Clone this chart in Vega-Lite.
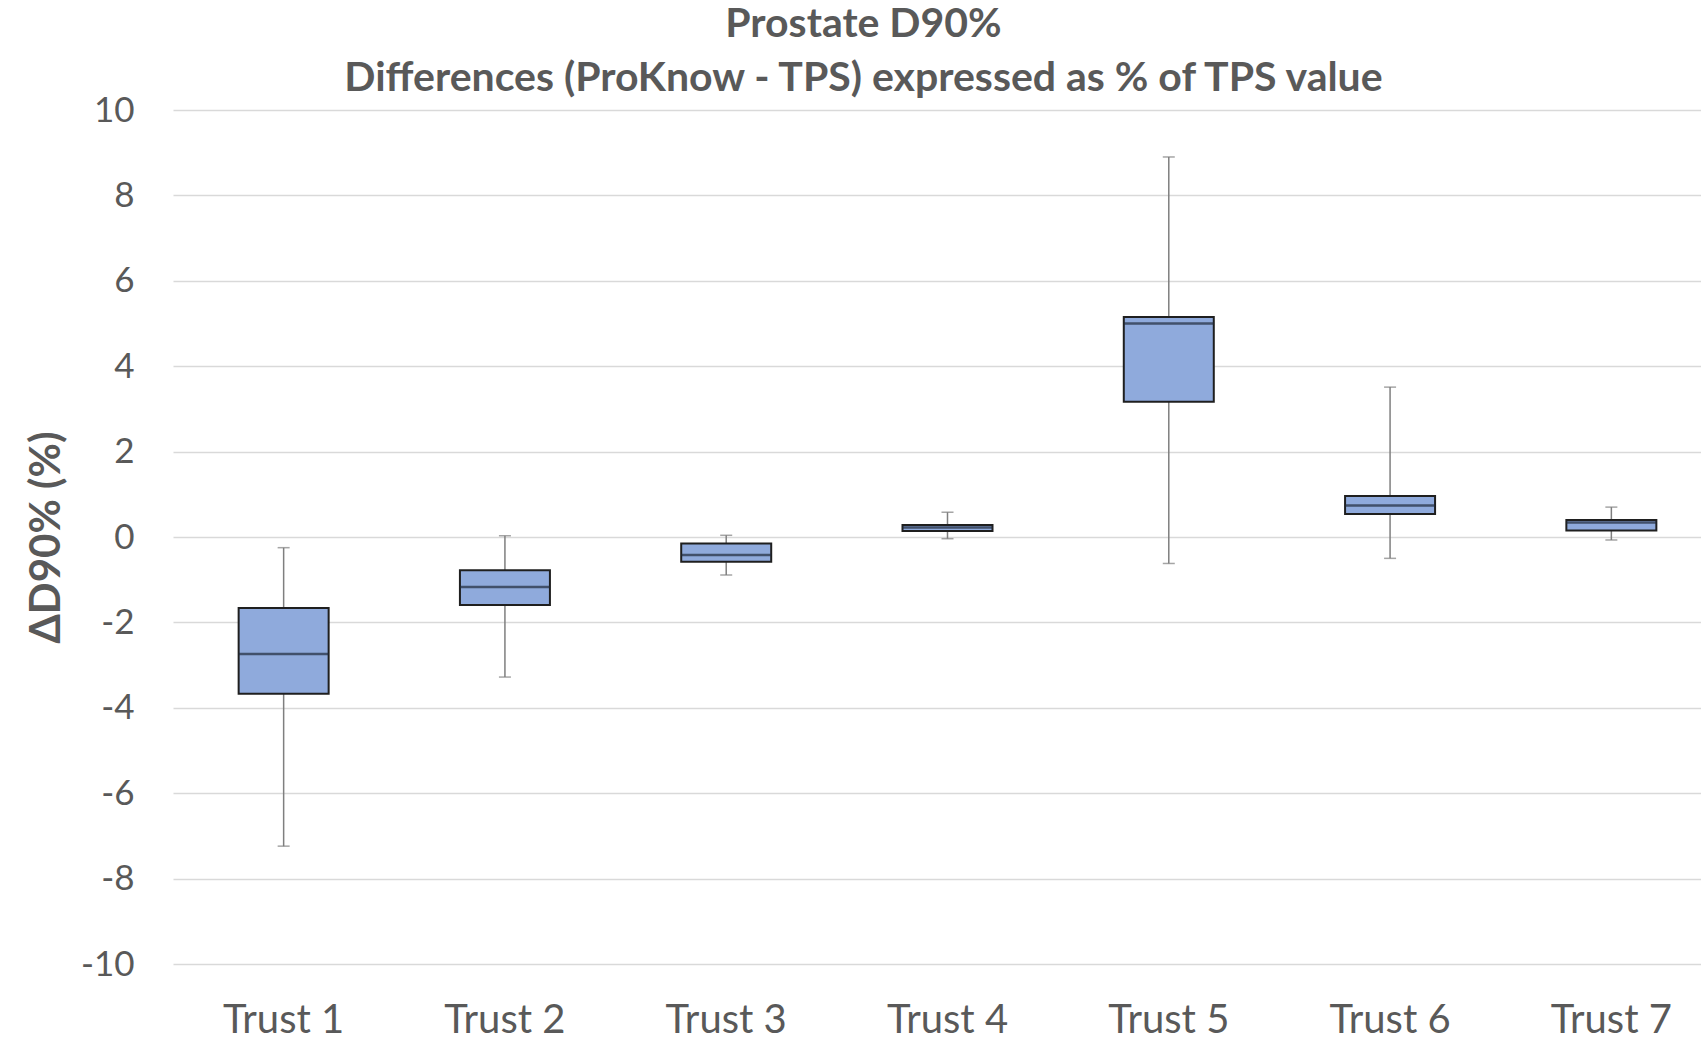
{
  "$schema": "https://vega.github.io/schema/vega-lite/v6.json",
  "autosize": "none",
  "width": 1527,
  "height": 854,
  "padding": {"left": 174, "top": 110, "right": 0, "bottom": 75},
  "background": "white",
  "config": {"view": {"stroke": null}},
  "title": {
    "text": ["Prostate D90%", "Differences (ProKnow - TPS) expressed as % of TPS value"],
    "font": "Lato",
    "fontSize": 41,
    "fontWeight": "bold",
    "color": "#595959",
    "lineHeight": 54,
    "anchor": "middle",
    "dx": -74,
    "offset": -7
  },
  "data": {
    "values": [
      {"trust": "Trust 1", "min": -7.24, "q1": -3.67, "median": -2.74, "q3": -1.66, "max": -0.25},
      {"trust": "Trust 2", "min": -3.28, "q1": -1.59, "median": -1.17, "q3": -0.78, "max": 0.03},
      {"trust": "Trust 3", "min": -0.89, "q1": -0.58, "median": -0.42, "q3": -0.15, "max": 0.04},
      {"trust": "Trust 4", "min": -0.04, "q1": 0.14, "median": 0.22, "q3": 0.28, "max": 0.58},
      {"trust": "Trust 5", "min": -0.62, "q1": 3.17, "median": 5.0, "q3": 5.15, "max": 8.9},
      {"trust": "Trust 6", "min": -0.5, "q1": 0.54, "median": 0.74, "q3": 0.96, "max": 3.51},
      {"trust": "Trust 7", "min": -0.07, "q1": 0.15, "median": 0.34, "q3": 0.4, "max": 0.7}
    ]
  },
  "encoding": {
    "x": {
      "field": "trust",
      "type": "nominal",
      "sort": null,
      "scale": {"paddingInner": 0, "paddingOuter": 0, "range": [-1, 1548]},
      "axis": {
        "title": null,
        "labelAngle": 0,
        "labelFont": "Lato",
        "labelFontSize": 40,
        "labelColor": "#595959",
        "labelPadding": 36,
        "labelBound": false,
        "ticks": false,
        "domain": false,
        "grid": false
      }
    }
  },
  "layer": [
    {
      "mark": {"type": "rule", "color": "#7f7f7f", "strokeWidth": 1.5},
      "encoding": {
        "y": {
          "field": "min",
          "type": "quantitative",
          "scale": {"domain": [-10, 10], "nice": false},
          "axis": {
            "title": "ΔD90% (%)",
            "titleFont": "Lato",
            "titleFontSize": 42,
            "titleFontWeight": "bold",
            "titleColor": "#595959",
            "titlePadding": 12,
            "values": [-10, -8, -6, -4, -2, 0, 2, 4, 6, 8, 10],
            "labelExpr": "'' + datum.value",
            "labelFont": "Lato",
            "labelFontSize": 35,
            "labelColor": "#595959",
            "labelPadding": 40,
            "ticks": false,
            "domain": false,
            "grid": true,
            "gridColor": "#d9d9d9",
            "gridWidth": 1.5
          }
        },
        "y2": {"field": "max"}
      }
    },
    {
      "mark": {"type": "tick", "color": "#7f7f7f", "thickness": 1.5, "size": 12},
      "encoding": {"y": {"field": "min", "type": "quantitative"}}
    },
    {
      "mark": {"type": "tick", "color": "#7f7f7f", "thickness": 1.5, "size": 12},
      "encoding": {"y": {"field": "max", "type": "quantitative"}}
    },
    {
      "mark": {"type": "bar", "fill": "#8faadc", "stroke": "#1f1f1f", "strokeWidth": 2, "width": 90},
      "encoding": {
        "y": {"field": "q1", "type": "quantitative"},
        "y2": {"field": "q3"}
      }
    },
    {
      "mark": {"type": "tick", "color": "#1f2a3a", "thickness": 2.5, "size": 90},
      "encoding": {"y": {"field": "median", "type": "quantitative"}}
    }
  ]
}
